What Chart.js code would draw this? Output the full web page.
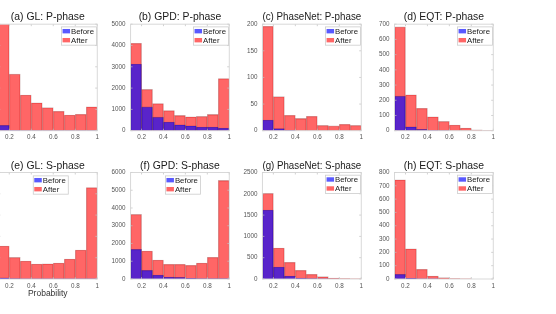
<!DOCTYPE html>
<html><head><meta charset="utf-8">
<script src="https://cdn.jsdelivr.net/npm/chart.js@4.4.0/dist/chart.umd.min.js"></script>
<style>
html,body{margin:0;padding:0;background:#fff;overflow:hidden;width:556px;height:314px;position:relative;}
canvas{position:absolute;}
</style></head><body>
<script>
// ---- data ----
const binCenters = [0.15, 0.25, 0.35, 0.45, 0.55, 0.65, 0.75, 0.85, 0.95];
const xTickValues = [0.2, 0.4, 0.6, 0.8, 1];
const xTickLabels = ['0.2', '0.4', '0.6', '0.8', '1'];
const seriesLabels = ['Before', 'After'];

const titles = ['(a) GL: P-phase', '(b) GPD: P-phase', '(c) PhaseNet: P-phase', '(d) EQT: P-phase',
                '(e) GL: S-phase', '(f) GPD: S-phase', '(g) PhaseNet: S-phase', '(h) EQT: S-phase'];

const glP_before   = [51, 3, 2, 2, 2, 2, 2, 2, 2];
const glP_after    = [1080, 531, 335, 262, 216, 182, 147, 154, 225];
const gpdP_before  = [3130, 1116, 637, 404, 280, 233, 172, 172, 126];
const gpdP_after   = [4100, 1940, 1273, 948, 716, 651, 670, 763, 2451];
const pnP_before   = [20, 4, 0.5, 0, 0, 0, 0, 0, 0];
const pnP_after    = [196, 64, 29, 23, 27, 10, 9, 12, 10];
const eqtP_before  = [227, 26, 9, 3, 1, 0, 0, 0, 0];
const eqtP_after   = [682, 236, 147, 91, 61, 37, 18, 6, 1];
const glS_before   = [12, 3, 2, 2, 2, 2, 2, 2, 2];
const glS_after    = [309, 203, 169, 141, 143, 150, 187, 272, 859];
const gpdS_before  = [1670, 489, 225, 112, 96, 40, 30, 20, 30];
const gpdS_after   = [3639, 1575, 1069, 827, 827, 770, 900, 1220, 5551];
const pnS_before   = [1617, 281, 70, 23, 8, 3, 1, 0, 0];
const pnS_after    = [2008, 726, 391, 204, 110, 54, 23, 10, 3];
const eqtS_before  = [35, 5, 2, 1, 0, 0, 0, 0, 0];
const eqtS_after   = [745, 227, 73, 22, 10, 3, 1, 0, 0];

const beforeSeries = [glP_before, gpdP_before, pnP_before, eqtP_before, glS_before, gpdS_before, pnS_before, eqtS_before];
const afterSeries  = [glP_after, gpdP_after, pnP_after, eqtP_after, glS_after, gpdS_after, pnS_after, eqtS_after];
const yMaxes = [1000, 5000, 200, 700, 1000, 6000, 2500, 800];
const ySteps = [200, 1000, 50, 100, 200, 1000, 500, 100];
const legendModes = ['ne', 'ne', 'ne', 'ne', 'n', 'n', 'ne', 'ne'];
const xAxisTitle = 'Probability';

// ---- layout ----
const plotLefts = [-1.7, 130.6, 262.4, 394.5];
const plotWidth = 100.6;
const yAxisW = 30;
const canvasW = 134;

Chart.defaults.font.family = '"Liberation Sans", Arial, Helvetica, sans-serif';
Chart.defaults.animation = false;

const boxPlugin = {
  id: 'boxPlugin',
  afterDatasetsDraw(chart) {
    const {ctx, chartArea: a} = chart;
    const xs = chart.scales.x, ys = chart.scales.y;
    ctx.save();
    ctx.strokeStyle = '#bdbdbd';
    ctx.lineWidth = 0.7;
    ctx.beginPath();
    xs.ticks.forEach(t => {
      const px = xs.getPixelForValue(t.value);
      ctx.moveTo(px, a.bottom); ctx.lineTo(px, a.bottom - 2);
      ctx.moveTo(px, a.top); ctx.lineTo(px, a.top + 2);
    });
    ys.ticks.forEach(t => {
      const py = ys.getPixelForValue(t.value);
      ctx.moveTo(a.left, py); ctx.lineTo(a.left + 2, py);
      ctx.moveTo(a.right, py); ctx.lineTo(a.right - 2, py);
    });
    ctx.stroke();
    ctx.strokeStyle = '#d4d4d4';
    ctx.lineWidth = 0.9;
    ctx.strokeRect(a.left, a.top, a.right - a.left, a.bottom - a.top);
    ctx.restore();
  }
};

const legendPlugin = {
  id: 'insideLegend',
  afterDatasetsDraw(chart, args, opts) {
    const {ctx, chartArea: a} = chart;
    const w = 35, h = 18.3;
    let x0, y0;
    if (opts.mode === 'n') { x0 = (a.left + a.right) / 2 - w / 2 + 3; y0 = a.top + 3.4; }
    else { x0 = a.right - 0.7 - w; y0 = a.top + 2.7; }
    ctx.save();
    ctx.fillStyle = '#fff';
    ctx.fillRect(x0, y0, w, h);
    ctx.strokeStyle = '#cccccc';
    ctx.lineWidth = 0.8;
    ctx.strokeRect(x0, y0, w, h);
    ctx.font = '7.8px "Liberation Sans", Arial, sans-serif';
    ctx.textBaseline = 'middle';
    ctx.textAlign = 'left';
    chart.data.datasets.forEach((ds, i) => {
      const cy = y0 + 4.3 + i * 9;
      ctx.fillStyle = ds.backgroundColor;
      ctx.fillRect(x0 + 1, cy - 2.2, 7.5, 4.4);
      ctx.fillStyle = '#1a1a1a';
      ctx.fillText(ds.label, x0 + 9.5, cy + 0.3);
    });
    ctx.restore();
  }
};

for (let k = 0; k < 8; k++) {
  const row = Math.floor(k / 4), col = k % 4;
  const pl = plotLefts[col];
  const cl = Math.floor(pl) - yAxisW;
  const padL = pl - Math.floor(pl);
  const padR = canvasW - yAxisW - padL - plotWidth;
  const canvasTop = row === 0 ? 0 : 148;
  const canvasH = row === 0 ? 143 : 150;
  const xAxisH = row === 0 ? 12 : 19;
  const padB = row === 0 ? 0.3 : 0;
  const titlePad = row === 0 ? {top: 10.5, bottom: 1.2} : {top: 11.5, bottom: 0.5};

  const cv = document.createElement('canvas');
  cv.style.left = cl + 'px';
  cv.style.top = canvasTop + 'px';
  cv.style.width = canvasW + 'px';
  cv.style.height = canvasH + 'px';
  cv.width = canvasW; cv.height = canvasH;
  document.body.appendChild(cv);

  new Chart(cv, {
    type: 'bar',
    data: {
      datasets: [
        { label: seriesLabels[0], data: beforeSeries[k].map((v, i) => ({x: binCenters[i], y: v})),
          backgroundColor: 'rgba(0,0,255,0.65)', borderColor: 'rgba(40,0,60,0.35)', borderWidth: 0.6,
          barPercentage: 1, categoryPercentage: 1 },
        { label: seriesLabels[1], data: afterSeries[k].map((v, i) => ({x: binCenters[i], y: v})),
          backgroundColor: 'rgba(255,0,0,0.6)', borderColor: 'rgba(90,0,0,0.3)', borderWidth: 0.6,
          barPercentage: 1, categoryPercentage: 1 }
      ]
    },
    options: {
      responsive: false,
      maintainAspectRatio: false,
      animation: false,
      layout: { padding: { left: padL, right: padR, top: 0, bottom: padB } },
      scales: {
        x: {
          type: 'linear', min: 0.1, max: 1.0, stacked: true, offset: false,
          grid: { display: false, drawTicks: false },
          border: { display: false },
          afterBuildTicks: s => { s.ticks = xTickValues.map(v => ({value: v})); },
          afterFit: s => { s.height = xAxisH; },
          ticks: {
            autoSkip: false, maxRotation: 0, padding: 3, color: '#555',
            font: { size: 6.3 },
            callback: v => xTickLabels[xTickValues.indexOf(v)]
          },
          title: { display: k === 4, text: xAxisTitle, color: '#333', padding: 0,
                   font: { size: 8.5, lineHeight: 1 } }
        },
        y: {
          min: 0, max: yMaxes[k], stacked: false,
          grid: { display: false, drawTicks: false },
          border: { display: false },
          afterFit: s => { s.width = yAxisW; },
          ticks: { stepSize: ySteps[k], padding: 5, color: '#555', font: { size: 6.3 },
                   callback: v => String(v) }
        }
      },
      plugins: {
        legend: { display: false },
        tooltip: { enabled: false },
        title: { display: true, text: titles[k], fullSize: false, align: 'center',
                 color: '#1a1a1a', padding: titlePad, font: { size: 10.4, weight: 'normal', lineHeight: 1.2 } },
        insideLegend: { mode: legendModes[k] }
      }
    },
    plugins: [boxPlugin, legendPlugin]
  });
}
</script>
</body></html>
